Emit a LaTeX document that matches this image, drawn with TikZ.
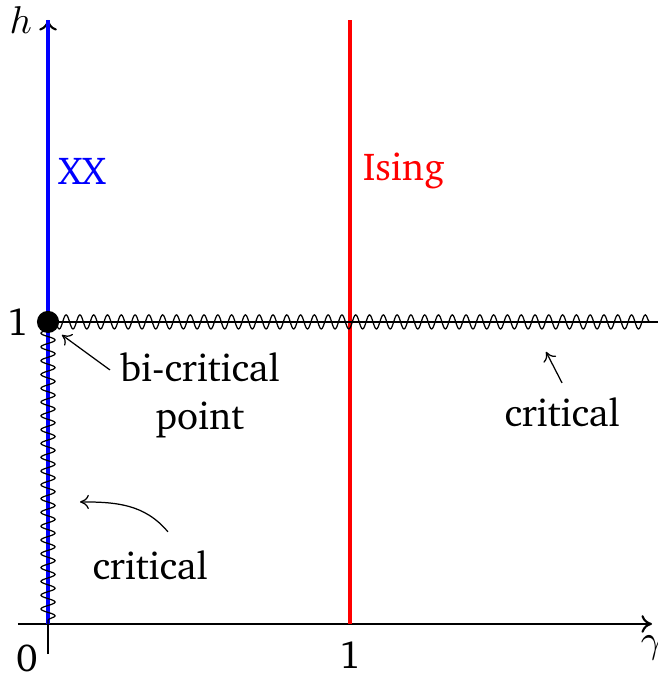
\documentclass[tikz,border=0pt]{standalone}
\usepackage[T1]{fontenc}
\usepackage{charter}
\usetikzlibrary{decorations.pathmorphing,arrows.meta}
\begin{document}
\begin{tikzpicture}[x=3cm,y=3cm,
  font=\fontsize{11}{13.5}\selectfont,
  axisline/.style={line width=0.6pt,-{To[length=3pt,width=5pt]}},
  wavy/.style={line width=0.35pt,decorate,decoration={snake,amplitude=0.07cm,segment length=0.137cm}},
  pointer/.style={line width=0.35pt,-{To[length=2.5pt,width=4pt]}}]
\useasboundingbox (-0.159,-0.179) rectangle (2.0166,2.066);
% coordinates
\coordinate (O) at (0,0);
\coordinate (Ob) at (0,-0.1);
\coordinate (Ol) at (-0.1,0);
\coordinate (Xe) at (2,0);
\coordinate (Ye) at (0,2);
\coordinate (P) at (0,1);
\coordinate (Pe) at (2.02,1);
\coordinate (R0) at (1,0);
\coordinate (R2) at (1,2);
% axes
\draw[axisline] (Ol) -- (Xe);
\draw[axisline] (Ob) -- (Ye);
% lines
\draw[blue,line width=1.2pt] (O) -- (Ye);
\draw[red,line width=1.1pt] (R0) -- (R2);
\draw[line width=0.4pt] (P) -- (Pe);
\draw[wavy] (P) -- (2,1);
\draw[wavy] (P) -- (O);
\fill (P) circle (0.11cm);
% labels
\node (h) at (-0.09,2.0) {$h$};
\node (g) at (2.0,-0.08) {$\gamma$};
\node (zero) at (-0.07,-0.113) {0};
\node (onex) at (1,-0.103) {1};
\node (oney) at (-0.1,1) {1};
\node[blue,anchor=west,inner sep=0pt] (xx) at (0.033,1.5) {XX};
\node[red,anchor=west,inner sep=0pt] (ising) at (1.04,1.5) {Ising};
\node[align=center] (bic) at (0.503,0.758) {bi-critical\\point};
\node (crr) at (1.702,0.702) {critical};
\node (crl) at (0.338,0.195) {critical};
\coordinate (a1s) at (0.205,0.841);
\coordinate (a1e) at (0.046,0.957);
\coordinate (a2s) at (1.702,0.798);
\coordinate (a2e) at (1.649,0.901);
\coordinate (a3s) at (0.397,0.305);
\coordinate (a3e) at (0.106,0.404);
\draw[pointer] (a1s) -- (a1e);
\draw[pointer] (a2s) -- (a2e);
\draw[pointer] (a3s) to[out=130,in=0] (a3e);
\end{tikzpicture}
\end{document}
